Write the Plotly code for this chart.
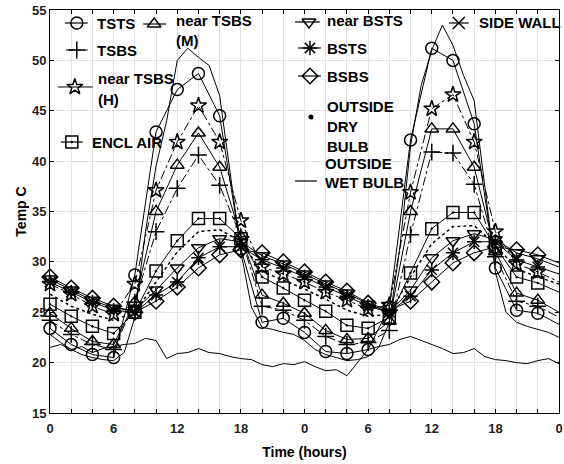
import plotly.graph_objects as go

# ---------------- data ----------------
hours2 = list(range(0, 49, 2))          # marker series sampled every 2 h
hours1 = list(range(0, 49))             # hourly series

x_tick_vals = list(range(0, 49, 2))
x_tick_text = ["0", "", "", "6", "", "", "12", "", "", "18", "", "",
               "0", "", "", "6", "", "", "12", "", "", "18", "", "", "0"]

tsts = [23.4, 21.8, 20.8, 20.5, 28.7, 42.9, 47.1, 48.7, 44.5, 31.3, 24.0, 24.4,
        23.0, 21.1, 20.9, 21.3, 25.5, 42.1, 51.2, 50.0, 43.7, 29.4, 25.2, 24.9, 23.8]
tsbs = [24.2, 22.8, 21.8, 21.3, 26.0, 33.0, 37.3, 40.6, 37.6, 32.5, 25.6, 25.2,
        24.2, 22.6, 21.8, 22.0, 23.2, 32.7, 40.9, 40.8, 37.7, 30.5, 26.1, 25.6, 24.5]
near_tsbs_h = [27.8, 26.8, 25.6, 24.8, 27.8, 37.1, 41.9, 45.5, 41.9, 34.1, 29.5, 28.8,
               28.0, 27.0, 26.2, 25.3, 25.7, 36.9, 45.2, 46.6, 41.9, 33.0, 29.8, 29.0, 28.0]
encl_air = [25.8, 24.6, 23.6, 22.9, 25.0, 29.1, 32.1, 34.3, 34.3, 32.3, 28.5, 27.4,
            26.2, 25.1, 23.7, 23.4, 24.5, 28.9, 33.3, 34.9, 34.9, 31.5, 28.5, 27.9, 27.0]
near_tsbs_m = [24.9, 23.4, 22.1, 21.8, 26.0, 35.0, 39.6, 42.8, 39.4, 32.5, 26.7, 25.9,
               24.9, 23.2, 22.3, 22.4, 24.1, 35.0, 43.2, 43.2, 39.4, 31.0, 26.9, 26.2, 25.0]
near_bsts = [28.3, 27.2, 26.2, 25.4, 25.2, 27.2, 29.4, 31.4, 32.3, 32.0, 30.6, 29.8,
             28.8, 27.8, 26.9, 25.8, 25.0, 27.2, 30.4, 32.1, 32.8, 32.2, 30.9, 30.3, 29.5]
bsts = [28.0, 27.0, 26.0, 25.2, 25.0, 26.7, 28.0, 30.4, 31.5, 31.5, 30.2, 29.4,
        28.5, 27.5, 26.6, 25.6, 25.0, 26.6, 29.2, 30.9, 32.0, 32.0, 30.2, 29.5, 28.8]
bsbs = [28.5, 27.4, 26.4, 25.6, 25.0, 26.1, 27.5, 29.4, 30.7, 31.2, 30.9, 30.0,
        29.0, 28.0, 27.1, 25.9, 25.2, 26.1, 28.0, 29.9, 30.9, 31.5, 31.2, 30.7, 29.9]
outside_dry_bulb = [26.8, 25.6, 24.8, 24.2, 25.0, 28.0, 31.0, 33.0, 33.2, 32.0, 29.0, 28.2,
                    27.3, 26.3, 25.2, 24.6, 24.8, 28.5, 31.8, 33.5, 33.6, 31.7, 29.3, 28.5, 27.8]
outside_wet_bulb = [21.5, 21.8, 21.3, 21.6, 21.0, 21.4, 21.6, 21.8, 21.9, 22.4, 22.2, 20.4,
                    20.9, 21.0, 21.4, 21.0, 20.9, 20.6, 20.4, 20.3, 19.8, 19.6, 19.9, 19.8,
                    20.1, 19.6, 19.2, 19.3, 18.7, 20.0, 21.3, 21.6, 21.8, 22.3, 22.6, 22.2,
                    21.8, 21.4, 20.9, 21.0, 21.4, 20.6, 20.3, 20.2, 20.0, 19.9, 20.2, 20.4, 19.9]
side_wall = [22.8, 22.0, 21.3, 20.8, 20.5, 20.3, 20.2, 21.0, 24.5, 33.0, 39.5, 44.0,
             50.0, 51.2, 50.3, 49.5, 46.5, 38.5, 31.0, 25.5, 23.5, 23.3, 23.0, 22.8,
             22.2, 21.3, 20.8, 20.5, 20.2, 20.3, 20.6, 21.5, 24.0, 31.5, 41.5, 47.5,
             51.0, 53.5, 51.5, 48.5, 46.0, 37.5, 29.0, 25.0, 24.0, 23.6, 23.3, 23.0, 22.5]

# (name, values, marker symbol, dash)
marker_series = [
    ("TSTS", tsts, "circle-open", "solid"),
    ("TSBS", tsbs, "cross-thin-open", "dashdot"),
    ("near TSBS (H)", near_tsbs_h, "star-open", "dashdot"),
    ("ENCL AIR", encl_air, "square-open-dot", "solid"),
    ("near TSBS (M)", near_tsbs_m, "triangle-up-open", "solid"),
    ("near BSTS", near_bsts, "triangle-down-open", "solid"),
    ("BSTS", bsts, "asterisk-open", "solid"),
    ("BSBS", bsbs, "diamond-open", "solid"),
]

FONT = "Liberation Sans, Arial, sans-serif"
fig = go.Figure()

fig.add_trace(go.Scatter(x=hours1, y=side_wall, mode="lines", name="SIDE WALL",
                         line=dict(color="black", width=1), showlegend=False))
fig.add_trace(go.Scatter(x=hours1, y=outside_wet_bulb, mode="lines", name="OUTSIDE WET BULB",
                         line=dict(color="black", width=1), showlegend=False))
fig.add_trace(go.Scatter(x=hours2, y=outside_dry_bulb, mode="lines", name="OUTSIDE DRY BULB",
                         line=dict(color="black", width=1.5, dash="dot"), showlegend=False))

for name, vals, sym, dash in marker_series:
    fig.add_trace(go.Scatter(
        x=hours2, y=vals, mode="lines", name=name, showlegend=False,
        line=dict(color="black", width=1, dash=dash)))
    # markers every 2 h up to the last full interval (none drawn on the right edge)
    fig.add_trace(go.Scatter(
        x=hours2[:-1], y=vals[:-1], mode="markers", name=name, showlegend=False, cliponaxis=False,
        marker=dict(symbol=sym, size=12, color="black", line=dict(color="black", width=1.5))))

# ---------------- custom legend (overlay axes in plot pixels) ----------------
legend_items = [
    # symbol, dash, line x0, x1, marker x, y, text x, [(text, y)]
    ("circle-open", "solid", 65, 88, 77, 23, 95, [("TSTS", 23)]),
    ("cross-thin-open", "dashdot", 66, 88, 77, 50, 95, [("TSBS", 50)]),
    ("star-open", "solid", 58, 93, 75, 87, 96, [("near TSBS", 78), ("(H)", 99)]),
    ("square-open-dot", "solid", 61, 83, 72, 142, 90, [("ENCL AIR", 142)]),
    ("triangle-up-open", "solid", 144, 167, 155, 24, 175, [("near TSBS", 20), ("(M)", 40)]),
    ("triangle-down-open", "solid", 297, 322, 311, 22, 327, [("near BSTS", 20)]),
    ("asterisk-open", "solid", 300, 323, 312, 48, 327, [("BSTS", 48)]),
    ("diamond-open", "solid", 300, 323, 312, 76, 327, [("BSBS", 76)]),
    ("circle", None, None, None, 313, 117, 327, [("OUTSIDE", 106), ("DRY", 126), ("BULB", 146)]),
    (None, "solid", 297, 319, None, 181, 325, [("OUTSIDE", 163), ("WET BULB", 182)]),
    ("x-thin-open", "solid", 452, 472, 462, 23, 480, [("SIDE WALL", 22)]),
]

annotations = []
for sym, dash, lx0, lx1, mx, y, tx, texts in legend_items:
    if lx0 is not None:
        fig.add_trace(go.Scatter(x=[lx0, lx1], y=[y, y], mode="lines", xaxis="x2", yaxis="y2",
                                 line=dict(color="black", width=1.2, dash=dash),
                                 showlegend=False, hoverinfo="skip"))
    if sym is not None:
        size = 3.5 if sym == "circle" else 12
        fig.add_trace(go.Scatter(x=[mx], y=[y], mode="markers", xaxis="x2", yaxis="y2",
                                 marker=dict(symbol=sym, size=size, color="black",
                                             line=dict(color="black", width=1.5)),
                                 showlegend=False, hoverinfo="skip"))
    for t, ty in texts:
        annotations.append(dict(x=tx, y=ty, xref="x2", yref="y2", text="<b>%s</b>" % t,
                                showarrow=False, xanchor="left", yanchor="middle",
                                font=dict(family=FONT, size=15, color="black")))

grid = "#e3e3e3"
fig.update_layout(
    width=564, height=464,
    margin=dict(l=50, r=1, t=10, b=51),
    paper_bgcolor="white", plot_bgcolor="white",
    font=dict(family=FONT, color="black"),
    annotations=annotations,
    xaxis=dict(range=[0, 48], tickvals=x_tick_vals, ticktext=["<b>%s</b>" % t if t else "" for t in x_tick_text],
               ticks="inside", ticklen=4, tickcolor="black", mirror="ticks",
               showline=True, linecolor="black", linewidth=1,
               showgrid=True, gridcolor=grid, gridwidth=1, zeroline=False,
               ticklabeloverflow="allow", ticklabelstandoff=3,
               tickfont=dict(family=FONT, size=13, color="#222"),
               title=dict(text="<b>Time (hours)</b>", font=dict(family=FONT, size=14), standoff=12)),
    yaxis=dict(range=[15, 55], tickvals=list(range(15, 56, 5)),
               ticktext=["<b>%d</b>" % v for v in range(15, 56, 5)],
               ticks="inside", ticklen=4, tickcolor="black", mirror="ticks",
               showline=True, linecolor="black", linewidth=1,
               showgrid=True, gridcolor=grid, gridwidth=1, zeroline=False,
               tickfont=dict(family=FONT, size=13, color="#222"),
               title=dict(text="<b>Temp C</b>", font=dict(family=FONT, size=14), standoff=2)),
    xaxis2=dict(range=[50, 563], overlaying="x", visible=False, fixedrange=True),
    yaxis2=dict(range=[413, 10], overlaying="y", visible=False, fixedrange=True),
)

fig.write_html("out.html", config={"displayModeBar": False},
               post_script="document.body.style.margin='0';")
